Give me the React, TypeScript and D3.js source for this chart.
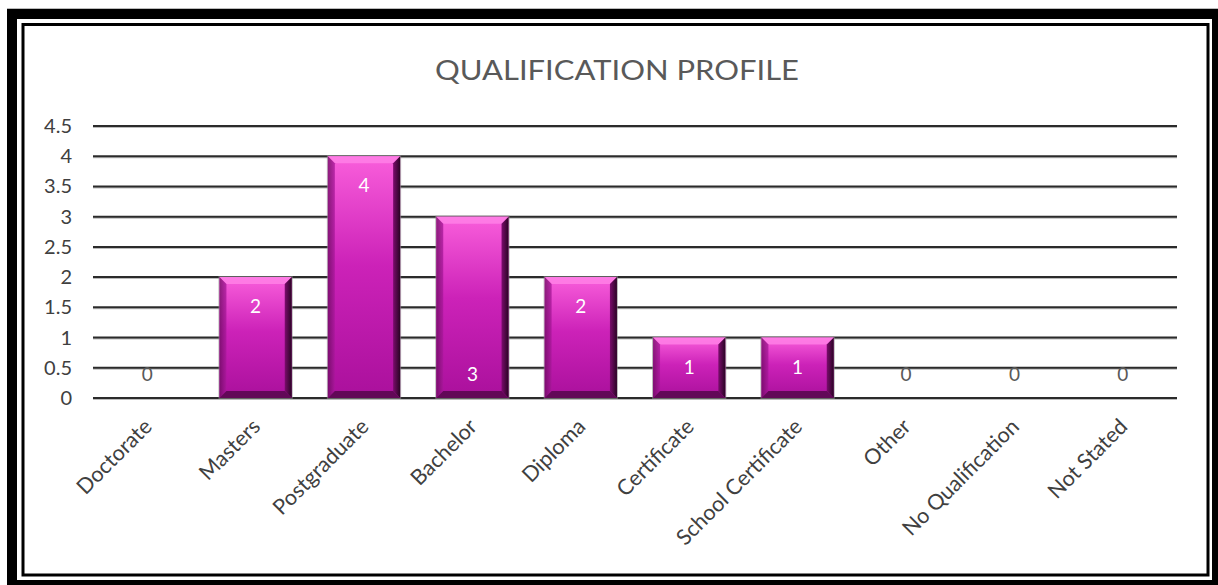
import React from 'react';
import * as d3 from 'd3';

const categories = [
  'Doctorate',
  'Masters',
  'Postgraduate',
  'Bachelor',
  'Diploma',
  'Certificate',
  'School Certificate',
  'Other',
  'No Qualification',
  'Not Stated',
];
const counts = [0, 2, 4, 3, 2, 1, 1, 0, 0, 0];
// the Bachelor label sits at the base of its bar in the original
const labelAtBase = [false, false, false, true, false, false, false, false, false, false];
const yTicks = [0, 0.5, 1, 1.5, 2, 2.5, 3, 3.5, 4, 4.5];
const title = 'QUALIFICATION PROFILE';

const W = 1218;
const H = 585;
const font = 'Lato, "Open Sans", sans-serif';

export default function App() {
  const x = d3.scaleBand<string>().domain(categories).range([93, 1177]).paddingInner(1 / 3).paddingOuter(1 / 6);
  const y = d3.scaleLinear().domain([0, 4.5]).range([398, 126]);
  const bw = x.bandwidth();
  const bev = 7;

  return (
    <svg width={W} height={H} style={{position: 'absolute', left: 0, top: 0}}>
      <defs>
        <linearGradient id="barFill" x1="0" y1="0" x2="0" y2="1">
          <stop offset="0%" stopColor="#f95edb" />
          <stop offset="45%" stopColor="#cc22b8" />
          <stop offset="100%" stopColor="#aa109c" />
        </linearGradient>
        <linearGradient id="rightEdge" x1="0" y1="0" x2="1" y2="0">
          <stop offset="0%" stopColor="#7a0c6c" />
          <stop offset="100%" stopColor="#2a0424" />
        </linearGradient>
        <linearGradient id="leftEdge" x1="0" y1="0" x2="1" y2="0">
          <stop offset="0%" stopColor="#6a0a5e" />
          <stop offset="100%" stopColor="#a8189a" />
        </linearGradient>
      </defs>
      <rect x={0} y={0} width={W} height={H} fill="#ffffff" />
      {/* double frame */}
      <line x1={7} x2={W} y1={8.5} y2={8.5} stroke="#bbb" strokeWidth={1} />
      <rect x={12} y={14} width={1205} height={571} fill="none" stroke="#000" strokeWidth={10} />
      <rect x={23} y={24.5} width={1185} height={550.5} fill="none" stroke="#000" strokeWidth={3} />

      <text
        x={617}
        y={80}
        textAnchor="middle"
        fontFamily={font}
        fontSize={27}
        fill="#595959"
        textLength={364}
        lengthAdjust="spacingAndGlyphs"
      >
        {title}
      </text>

      {/* gridlines */}
      {yTicks.map((t) => (
        <g key={t}>
          <line x1={93} x2={1177} y1={y(t) + 1} y2={y(t) + 1} stroke="#bbb" strokeWidth={2} />
          <line x1={93} x2={1177} y1={y(t)} y2={y(t)} stroke="#2b2b2b" strokeWidth={2} />
          <text x={72} y={y(t) + 7} textAnchor="end" fontFamily={font} fontSize={20} fill="#404040">
            {t}
          </text>
        </g>
      ))}

      {/* bars */}
      {categories.map((c, i) => {
        const v = counts[i];
        const x0 = x(c)!;
        const x1 = x0 + bw;
        const y0 = y(v);
        const y1 = y(0);
        const bars =
          v > 0 ? (
            <g>
              <rect x={x0 - 1} y={y0 - 1} width={bw + 2} height={y1 - y0 + 2} fill="#8a8a8a" opacity={0.6} />
              <rect x={x0} y={y0} width={bw} height={y1 - y0} fill="url(#barFill)" />
              <polygon
                points={`${x0},${y0} ${x1},${y0} ${x1 - bev},${y0 + bev} ${x0 + bev},${y0 + bev}`}
                fill="#ff80e6"
                opacity={0.85}
              />
              <polygon
                points={`${x0},${y0} ${x0 + bev},${y0 + bev} ${x0 + bev},${y1 - bev} ${x0},${y1}`}
                fill="url(#leftEdge)"
                opacity={0.75}
              />
              <polygon
                points={`${x1},${y0} ${x1},${y1} ${x1 - bev},${y1 - bev} ${x1 - bev},${y0 + bev}`}
                fill="url(#rightEdge)"
              />
              <polygon
                points={`${x0},${y1} ${x1},${y1} ${x1 - bev},${y1 - bev} ${x0 + bev},${y1 - bev}`}
                fill="#5a0850"
                opacity={0.9}
              />
            </g>
          ) : null;
        const base = v === 0 || labelAtBase[i];
        const ly = base ? y(0) - 17 : y0 + 36;
        return (
          <g key={c}>
            {bars}
            <text
              x={x0 + bw / 2}
              y={ly}
              textAnchor="middle"
              fontFamily={font}
              fontSize={19}
              fill={v > 0 ? '#ffffff' : '#595959'}
            >
              {v}
            </text>
          </g>
        );
      })}

      {/* category labels */}
      {categories.map((c) => {
        const cx = x(c)! + bw / 2;
        return (
          <text
            key={c}
            transform={`translate(${cx + 6},${428}) rotate(-45)`}
            textAnchor="end"
            fontFamily={font}
            fontSize={21.5}
            fill="#404040"
          >
            {c}
          </text>
        );
      })}
    </svg>
  );
}
